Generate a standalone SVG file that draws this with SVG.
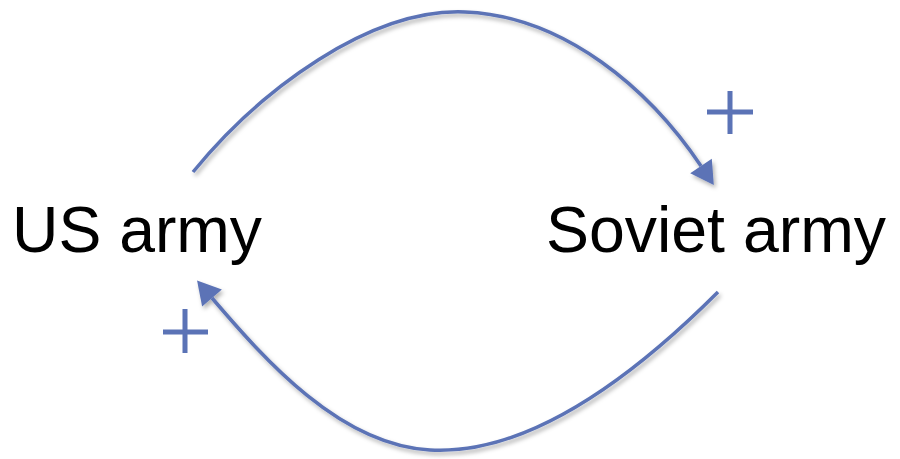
<svg xmlns="http://www.w3.org/2000/svg" width="900" height="459" viewBox="0 0 900 459">
  <defs>
    <style>
      .label { font-family: "Liberation Sans", "DejaVu Sans", sans-serif; font-size: 65px; fill: #000; }
      .link { fill: none; stroke: #5B73B6; stroke-width: 3.5; filter: url(#sh); }
      .plus { stroke: #5B73B6; stroke-width: 5; fill: none; }
    </style>
    <filter id="sh" x="-10%" y="-10%" width="120%" height="130%">
      <feDropShadow dx="2" dy="3" stdDeviation="2" flood-color="#000" flood-opacity="0.3"/>
    </filter>
    <marker id="ah" markerUnits="userSpaceOnUse" markerWidth="26" markerHeight="26" viewBox="0 0 24 26" refX="0" refY="13" orient="auto" overflow="visible">
      <path d="M0,0 L23,13 L0,26 z" fill="#5B73B6"/>
    </marker>
  </defs>
  <g id="connectors">
    <path class="link" d="M193,172 C260,90 370,8 465,12 C565,16 650,90 701,166" marker-end="url(#ah)"/>
    <path class="link" d="M718,292 C620,390 520,455 430,450 C340,445 265,360 212,298" marker-end="url(#ah)"/>
  </g>
  <g id="plus-top">
    <path class="plus" d="M707,112 H753 M730,91 V134"/>
  </g>
  <g id="plus-bottom">
    <path class="plus" d="M163,332 H208 M185,309 V353"/>
  </g>
  <g id="us-army">
    <text class="label" x="12" y="252" textLength="250" lengthAdjust="spacingAndGlyphs">US army</text>
  </g>
  <g id="soviet-army">
    <text class="label" x="546" y="252" textLength="340" lengthAdjust="spacingAndGlyphs">Soviet army</text>
  </g>
</svg>
